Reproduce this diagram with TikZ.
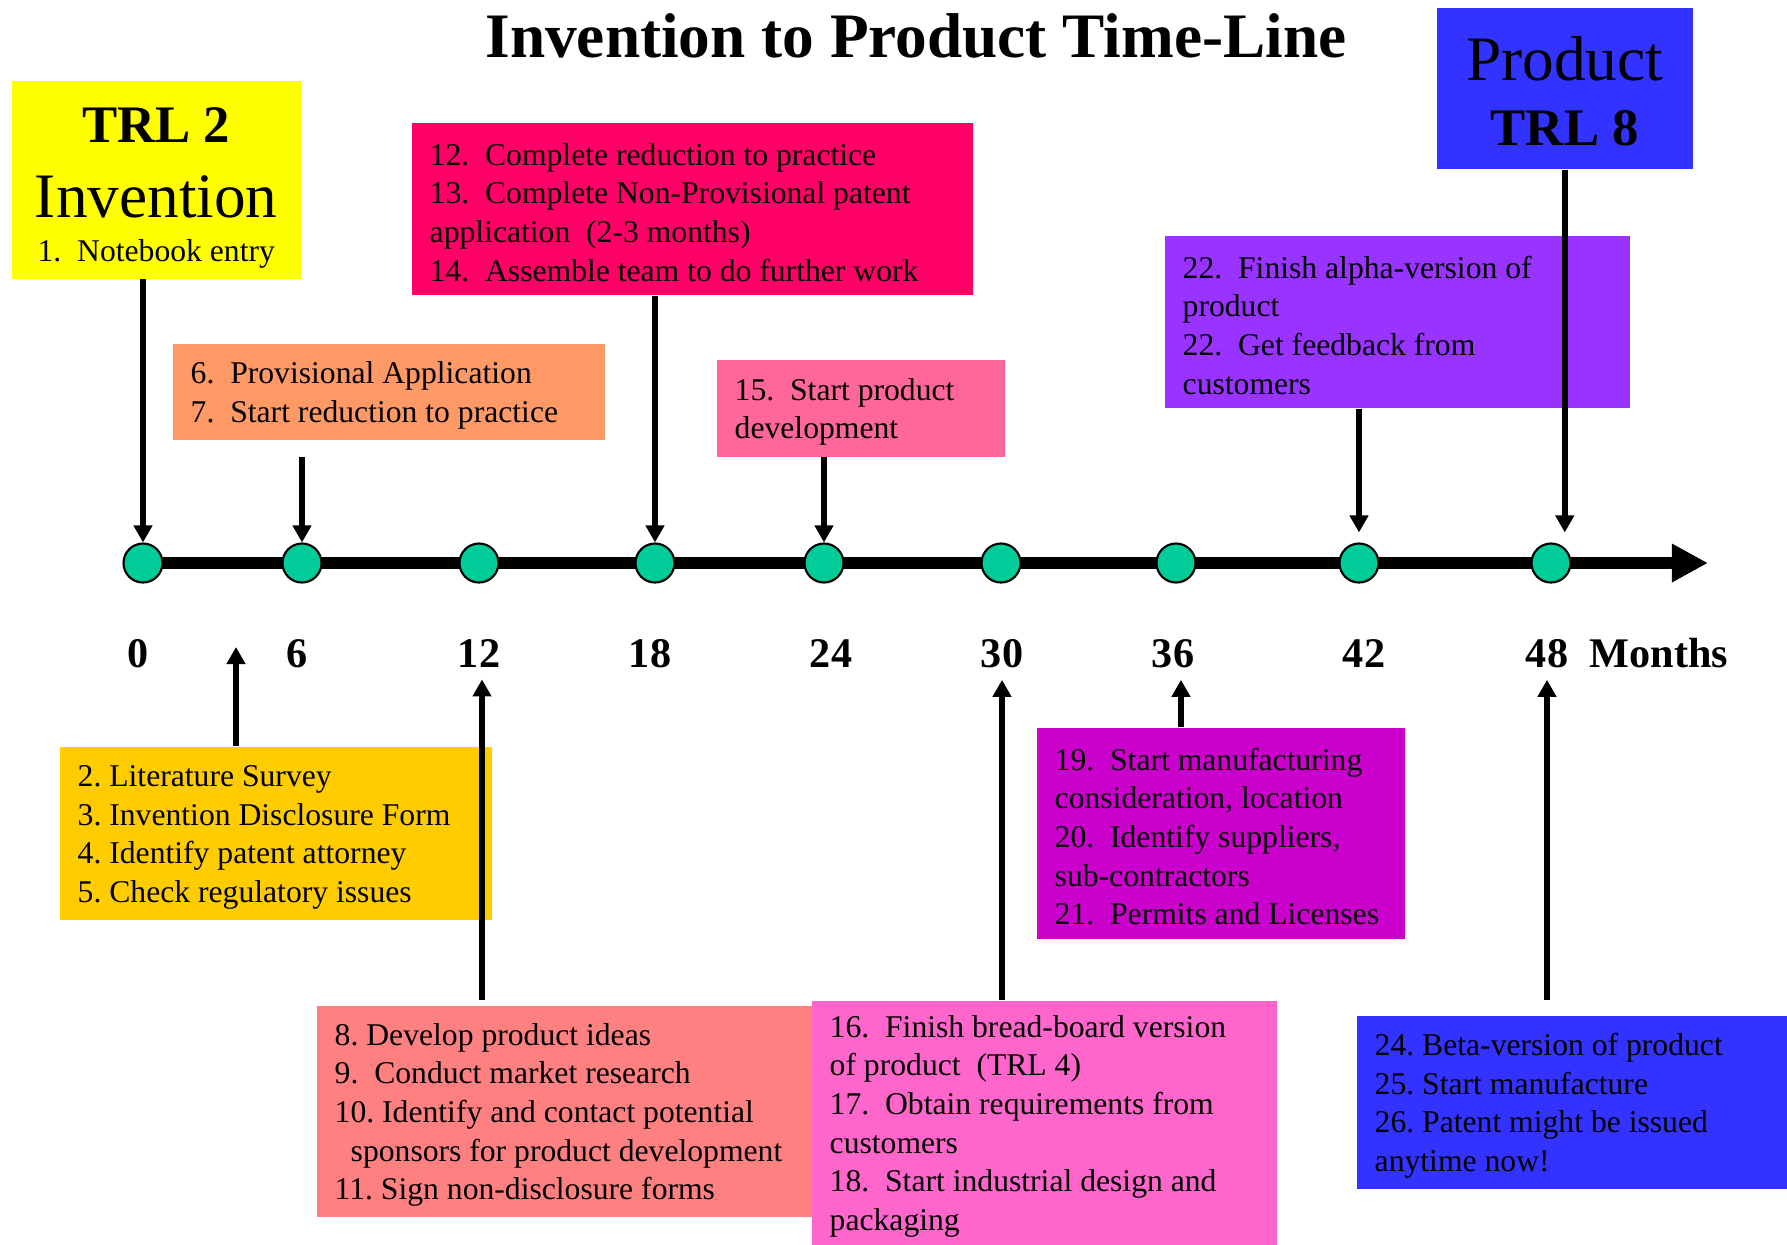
\documentclass[tikz,border=0pt]{standalone}
\usepackage{fontspec}
\setmainfont{Liberation Serif}
\usetikzlibrary{arrows.meta,calc}
\frenchspacing
\definecolor{trlyellow}{HTML}{FFFF00}
\definecolor{prodblue}{HTML}{3333FF}
\definecolor{rtppink}{HTML}{FF0066}
\definecolor{provorange}{HTML}{FF9966}
\definecolor{devpink}{HTML}{FF6699}
\definecolor{alphapurple}{HTML}{9933FF}
\definecolor{litgold}{HTML}{FFCC00}
\definecolor{ideasalmon}{HTML}{FF8080}
\definecolor{breadpink}{HTML}{FF66CC}
\definecolor{manumagenta}{HTML}{CC00CC}
\definecolor{dotgreen}{HTML}{00CC99}

\begin{document}
\begin{tikzpicture}[x=0.01cm, y=-0.01cm,
    box/.style={anchor=north west, inner xsep=0.18cm, inner ysep=0pt, align=flush left,
      font=\fontsize{9}{11}\selectfont, execute at begin node={\rule{0pt}{0.29cm}}},
    mdot/.style={circle, draw=black, line width=0.6pt, fill=dotgreen, minimum size=0.39cm, inner sep=0pt},
    lab/.style={anchor=base, font=\fontsize{12}{14}\selectfont\bfseries},
    arr/.style={line width=0.065cm, -{Triangle[width=0.18cm,length=0.17cm]}}]
  \useasboundingbox (0,0) rectangle (1787,1244);

  \node[anchor=base, font=\fontsize{18}{20}\selectfont\bfseries] (title) at (916,57) {Invention to Product Time-Line};

  % milestone boxes
  \node[box, fill=trlyellow, align=flush center, text width=2.53cm] (trl2) at (11,80)
    {\fontsize{15}{15}\selectfont\bfseries\rule{0pt}{0.62cm}TRL 2\par
     \fontsize{18}{21.3}\selectfont\mdseries Invention\par
     \fontsize{9}{12.5}\selectfont 1.\ \ Notebook entry\rule[-0.17cm]{0pt}{0.17cm}\par};
  \node[box, fill=prodblue, align=flush center, text width=2.20cm, font=\fontsize{18}{20}\selectfont] (prod) at (1436,7)
    {\rule{0pt}{0.73cm}Product\par
     \fontsize{15}{18.5}\selectfont\bfseries TRL 8\rule[-0.23cm]{0pt}{0.23cm}\par};
  \node[box, fill=rtppink, text width=5.25cm, minimum height=1.72cm] (rtp) at (411,122)
    {12.\ \ Complete reduction to practice\\13.\ \ Complete Non-Provisional patent\\application\ \ (2-3 months)\\14.\ \ Assemble team to do further work};
  \node[box, fill=provorange, text width=3.96cm, minimum height=0.96cm] (prov) at (172,343)
    {6.\ \ Provisional Application\\7.\ \ Start reduction to practice};
  \node[box, fill=devpink, text width=2.52cm, minimum height=0.97cm] (dev) at (716,359)
    {15.\ \ Start product\\development};
  \node[box, fill=alphapurple, text width=4.29cm, minimum height=1.72cm] (alpha) at (1164,235)
    {22.\ \ Finish alpha-version of\\product\\22.\ \ Get feedback from\\customers};
  \node[box, fill=litgold, text width=3.96cm, minimum height=1.73cm] (lit) at (59,746)
    {2. Literature Survey\\3. Invention Disclosure Form\\4. Identify patent attorney\\5. Check regulatory issues};
  \node[box, fill=ideasalmon, text width=4.59cm, minimum height=2.11cm] (ideas) at (316,1005)
    {8. Develop product ideas\\9.\ \ Conduct market research\\10. Identify and contact potential\\\hspace*{0.16cm}sponsors for product development\\11. Sign non-disclosure forms};
  \node[box, fill=breadpink, text width=4.29cm, minimum height=2.44cm] (bread) at (811,1000)
    {16.\ \ Finish bread-board version\\of product\ \ (TRL 4)\\17.\ \ Obtain requirements from\\customers\\18.\ \ Start industrial design and\\packaging};
  \node[box, fill=manumagenta, text width=3.32cm, minimum height=2.11cm] (manu) at (1036,727)
    {19.\ \ Start manufacturing\\consideration, location\\20.\ \ Identify suppliers,\\sub-contractors\\21.\ \ Permits and Licenses};
  \node[box, fill=prodblue, text width=3.95cm, minimum height=1.73cm] (beta) at (1356,1015)
    {24. Beta-version of product\\25. Start manufacture\\26. Patent might be issued\\anytime now!};

  % time line
  \coordinate (tlend) at (1708,563);
  \foreach \x [count=\i from 0] in {143,302,479,655,824,1001,1176,1359,1551}
    \coordinate (c\i) at (\x,563);
  \draw[line width=0.12cm, -{Triangle[width=0.36cm,length=0.36cm]}] (c0) -- (tlend);
  \foreach \x [count=\i from 0] in {143,302,479,655,824,1001,1176,1359,1551}
    \node[mdot] (d\i) at (\x,563) {};
  \foreach \x/\m [count=\i from 0] in {138/0,297/6,479/12,650/18,831/24,1002/30,1173/36,1364/42,1547/48}
    \node[lab] (l\i) at (\x,667) {\m};
  \node[lab] (months) at (1659,667) {Months};

  % arrows down to the line
  \draw[arr] (trl2.south -| d0) -- (d0.north);
  \draw[arr] ($(prov.south -| d1)+(0,17)$) -- (d1.north);
  \draw[arr] (rtp.south -| d3) -- (d3.north);
  \draw[arr] (dev.south -| d4) -- (d4.north);
  \draw[arr] (alpha.south -| d7) -- ($(d7.north)+(0,-10)$);
  \draw[arr] (prod.south) -- ($(prod.south |- d8.north)+(0,-10)$);
  % arrows up to the months
  \coordinate (u1) at (236,647);
  \draw[arr] (lit.north -| u1) -- (u1);
  \draw[arr] ($(ideas.north -| l2)+(3,-5)$) -- ($(l2.south)+(3,0)$);
  \draw[arr] (bread.north -| l5) -- (l5.south);
  \draw[arr] ($(manu.north -| l6)+(8,0)$) -- ($(l6.south)+(8,0)$);
  \draw[arr] ($(beta.north -| l8)+(0,-15)$) -- (l8.south);
\end{tikzpicture}
\end{document}
